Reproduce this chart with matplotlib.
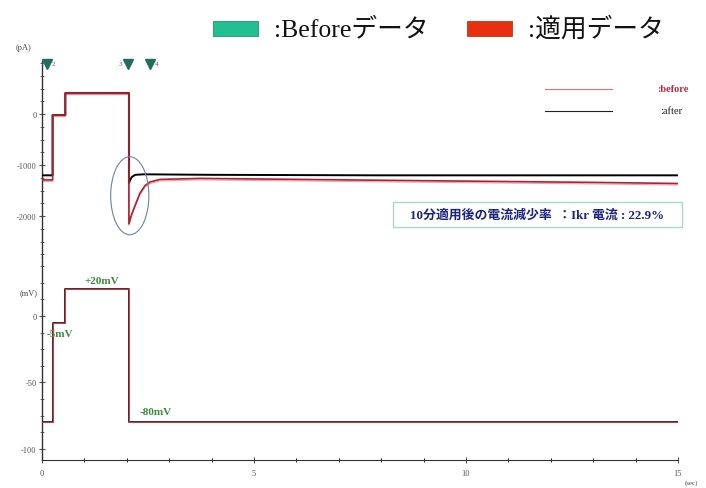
import matplotlib
matplotlib.use("Agg")
import matplotlib.pyplot as plt
from matplotlib.patches import Ellipse, Rectangle
from matplotlib.ticker import MultipleLocator

SERIF = ['Liberation Serif', 'DejaVu Serif']
JP = ['Liberation Serif', 'Noto Sans CJK JP', 'DejaVu Sans']

# ---- voltage protocol (mV) ----
v_time = [0.0, 0.25, 0.25, 0.55, 0.55, 2.05, 2.05, 15.0]
v_level = [-80, -80, -5, -5, 20, 20, -80, -80]

# ---- current traces (pA) ----
before_time = [0.0, 0.25, 0.25, 0.55, 0.55, 2.05, 2.05, 2.1, 2.19, 2.31, 2.43,
               2.55, 2.78, 3.73, 6.1, 8.4, 10.8, 13.2, 15.0]
before_pA = [-1290, -1290, -20, -20, 410, 410, -2150, -2000, -1800, -1550, -1400,
             -1330, -1280, -1260, -1280, -1300, -1320, -1340, -1360]

after_time = [0.0, 0.25, 0.25, 0.55, 0.55, 2.05, 2.05, 2.08, 2.12, 2.2, 2.4,
              4.0, 8.0, 12.0, 15.0]
after_pA = [-1200, -1200, -20, -20, 410, 410, -1350, -1290, -1230, -1190, -1180,
            -1190, -1200, -1200, -1200]

x_major = [0, 5, 10, 15]
top_major = [0, -1000, -2000]
bot_major = [0, -50, -100]

marker_t = [0.12, 2.03, 2.55]

fig = plt.figure(figsize=(7.06, 4.89), dpi=100)
L, W = 42 / 706, (678 - 42) / 706
ax1 = fig.add_axes([L, (489 - 258) / 489, W, (258 - 62) / 489])
ax2 = fig.add_axes([L, (489 - 461) / 489, W, (461 - 258) / 489])

for ax in (ax1, ax2):
    for s in ('top', 'right'):
        ax.spines[s].set_visible(False)
    ax.set_xlim(0, 15)
    ax.spines['left'].set_linewidth(1.0)
    ax.spines['left'].set_color('#333333')
    ax.tick_params(axis='y', direction='inout', length=4, width=0.8,
                   labelsize=6, colors='#555555', pad=2)
    ax.tick_params(axis='y', which='minor', direction='inout', length=3, width=0.6,
                   colors='#555555')
ax1.spines['bottom'].set_visible(False)
ax1.tick_params(axis='x', which='both', bottom=False, labelbottom=False)

ax1.set_ylim(-2800, 1040)
ax1.set_yticks(top_major)
ax1.set_yticklabels([str(v) for v in top_major], family=SERIF)
ax1.yaxis.set_minor_locator(MultipleLocator(250))

ax2.set_ylim(-108.3, 44.4)
ax2.set_yticks(bot_major)
ax2.set_yticklabels([str(v) for v in bot_major], family=SERIF)
ax2.yaxis.set_minor_locator(MultipleLocator(12.5))
ax2.set_xticks(x_major)
ax2.set_xticklabels([str(v) for v in x_major], family=SERIF)
ax2.xaxis.set_minor_locator(MultipleLocator(1))
ax2.spines['bottom'].set_color('#333333')
ax2.tick_params(axis='x', direction='inout', length=5, width=0.8, labelsize=6,
                colors='#555555', pad=4)
ax2.tick_params(axis='x', which='minor', direction='inout', length=3, width=0.6)

# current traces
ax1.plot(after_time, after_pA, color='black', lw=1.4, zorder=3)
ax1.plot(before_time, before_pA, color='#b02030', lw=1.2, zorder=4)
ax1.plot(before_time, [v - 30 for v in before_pA], color='#f0a0a8', lw=0.8, zorder=2)

# voltage traces
ax2.plot(v_time, v_level, color='#222222', lw=1.3, zorder=3)
ax2.plot(v_time, v_level, color='#e04050', lw=0.8, alpha=0.8, zorder=4)

# ellipse
ax1.add_patch(Ellipse((2.07, -1600), 0.9, 1530, fill=False, edgecolor='#7080a8', lw=0.8, zorder=5))

# triangle markers
for t in marker_t:
    ax1.plot([t], [990], marker='v', color='#1f6f5f', markersize=7, clip_on=False, zorder=6)
ax1.text(0.05, 990, '1', fontsize=5, va='center', ha='right', family=SERIF, color='#555555')
ax1.text(0.24, 990, '2', fontsize=5, va='center', ha='left', family=SERIF, color='#555555')
ax1.text(1.9, 990, '3', fontsize=5, va='center', ha='right', family=SERIF, color='#555555')
ax1.text(2.66, 990, '4', fontsize=5, va='center', ha='left', family=SERIF, color='#555555')

# axis unit labels
fig.text(16 / 706, 1 - 48 / 489, '(pA)', fontsize=6, family=SERIF, color='#444444', va='center')
fig.text(20 / 706, 1 - 293 / 489, '(mV)', fontsize=6, family=SERIF, color='#444444', va='center')
fig.text(685 / 706, 1 - 483 / 489, '(sec)', fontsize=5, family=SERIF, color='#444444', va='center')

# green step labels
gk = dict(fontsize=8, family=SERIF, color='#3c8c3c', fontweight='bold')
ax2.text(1.4, 23, '+20mV', ha='center', va='bottom', **gk)
ax2.text(0.12, -13, '-5mV', ha='left', va='center', **gk)
ax2.text(2.3, -72, '-80mV', ha='left', va='center', **gk)

# top legend
fig.patches.append(Rectangle((213 / 706, 1 - 37 / 489), 45 / 706, 15 / 489,
                             transform=fig.transFigure, facecolor='#20c090', edgecolor='#108060', lw=0.5))
fig.text(274 / 706, 1 - 29 / 489, ':Beforeデータ', fontsize=18.5, family=JP, va='center', color='#111111')
fig.patches.append(Rectangle((467 / 706, 1 - 37 / 489), 45 / 706, 15 / 489,
                             transform=fig.transFigure, facecolor='#e83010', edgecolor='#b02000', lw=0.5))
fig.text(528 / 706, 1 - 29 / 489, ':適用データ', fontsize=18.5, family=JP, va='center', color='#111111')

# inner legend
fig.add_artist(plt.Line2D([545 / 706, 612 / 706], [1 - 90 / 489] * 2, transform=fig.transFigure,
                          color='#e07080', lw=0.8))
fig.add_artist(plt.Line2D([545 / 706, 612 / 706], [1 - 112 / 489] * 2, transform=fig.transFigure,
                          color='#222222', lw=0.8))
fig.text(657 / 706, 1 - 90 / 489, ':before', fontsize=7.5, family=SERIF, color='#c02840',
         fontweight='bold', va='center')
fig.text(660 / 706, 1 - 112 / 489, ':after', fontsize=7.5, family=SERIF, color='#222222', va='center')

# annotation box
fig.patches.append(Rectangle((393 / 706, 1 - 228 / 489), 289 / 706, 25 / 489,
                             transform=fig.transFigure, facecolor='white', edgecolor='#a8d8c8', lw=1.0))
fig.text(537 / 706, 1 - 215.5 / 489, '10分適用後の電流減少率  ：Ikr 電流 : 22.9%', fontsize=9.3,
         family=JP, color='#1a237e', fontweight='bold', ha='center', va='center')

fig.savefig('out.png', dpi=100)
